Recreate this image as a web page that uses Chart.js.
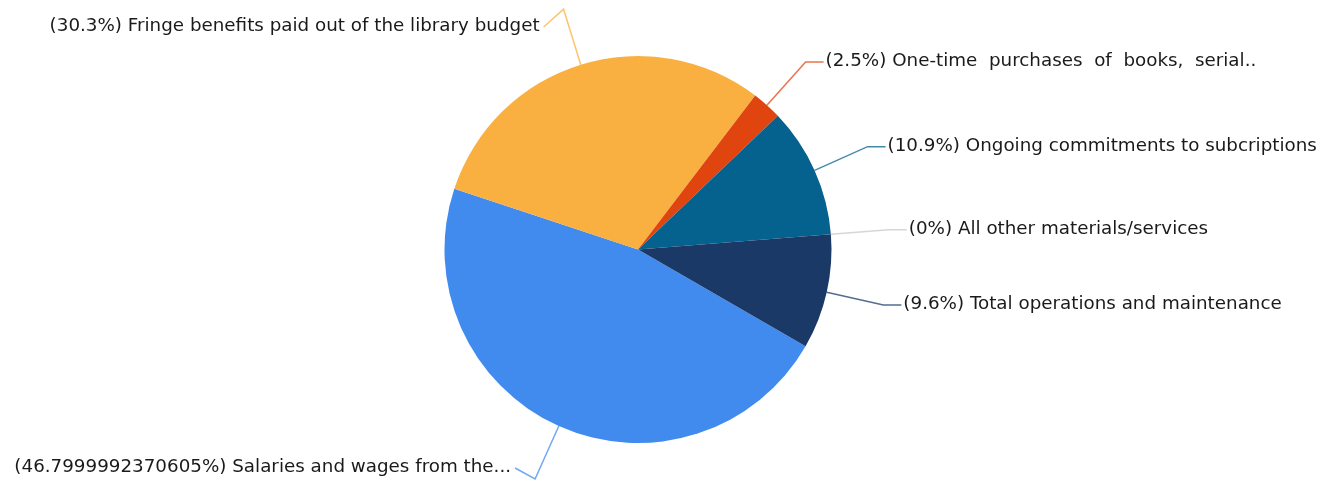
<!DOCTYPE html>
<html>
<head>
<meta charset="utf-8">
<script src="https://cdn.jsdelivr.net/npm/chart.js@4"></script>
<style>
  html, body { margin: 0; padding: 0; background: #fff; }
  #wrap { width: 1338px; height: 485px; }
</style>
</head>
<body>
<div id="wrap"><canvas id="pieChart"></canvas></div>
<script>
// data, clockwise from the big slice
const categories = [
    "Salaries and wages from the...",
    "Fringe benefits paid out of the library budget",
    "One-time  purchases  of  books,  serial..",
    "Ongoing commitments to subcriptions",
    "All other materials/services",
    "Total operations and maintenance"
];
const percentages = [46.7999992370605, 30.3, 2.5, 10.9, 0, 9.6];
const sliceColors = ["#418BEE", "#F9B040", "#E0450F", "#05628F", "#C8C8C8", "#1B3967"];

// draws the outside labels with leader lines
const leaderLabels = {
    id: "leaderLabels",
    afterDatasetsDraw(chart) {
        const ctx = chart.ctx;
        const arcs = chart.getDatasetMeta(0).data;
        ctx.save();
        ctx.font = "17px 'DejaVu Sans'";
        const ref = "(30.3%) " + categories[1];
        const stretch = 490 / ctx.measureText(ref).width;

        arcs.forEach((arc, i) => {
            const p = arc.getProps(["x", "y", "startAngle", "endAngle", "outerRadius"], true);
            const mid = (p.startAngle + p.endAngle) / 2;
            const ex = p.x + Math.cos(mid) * p.outerRadius;
            const ey = p.y + Math.sin(mid) * p.outerRadius;
            const bx = p.x + Math.cos(mid) * p.outerRadius * 1.3;
            const by = p.y + Math.sin(mid) * p.outerRadius * 1.3;
            const right = Math.cos(mid) >= 0;
            const ty = Math.min(Math.max(by, 27), 468);
            const lx = right ? bx + 18 : bx - 20;
            const tx = right ? bx + 20 : bx - 24;

            ctx.strokeStyle = sliceColors[i];
            ctx.globalAlpha = 0.75;
            ctx.lineWidth = 1.5;
            ctx.beginPath();
            ctx.moveTo(ex, ey);
            ctx.lineTo(bx, by);
            ctx.lineTo(lx, ty);
            ctx.stroke();

            ctx.globalAlpha = 1;
            ctx.fillStyle = "#1a1a1a";
            ctx.textBaseline = "middle";
            ctx.textAlign = right ? "left" : "right";
            ctx.save();
            ctx.translate(tx, ty);
            ctx.scale(stretch, 1);
            ctx.fillText("(" + percentages[i] + "%) " + categories[i], 0, 0);
            ctx.restore();
        });
        ctx.restore();
    }
};

new Chart(document.getElementById("pieChart"), {
    type: "pie",
    data: {
        labels: categories,
        datasets: [{
            data: percentages,
            backgroundColor: sliceColors,
            borderWidth: 0
        }]
    },
    options: {
        responsive: true,
        maintainAspectRatio: false,
        animation: false,
        rotation: 120,
        layout: { padding: { top: 56, bottom: 42, left: 100, right: 162 } },
        plugins: {
            legend: { display: false },
            tooltip: { enabled: false }
        }
    },
    plugins: [leaderLabels]
});
</script>
</body>
</html>
